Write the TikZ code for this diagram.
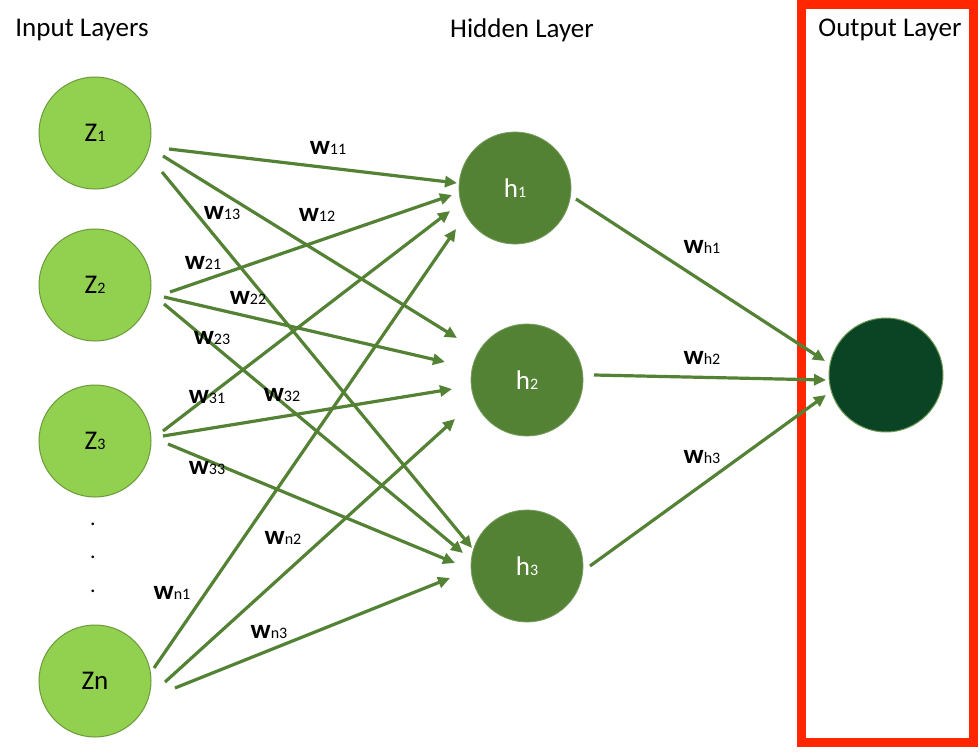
\documentclass[tikz,border=0pt]{standalone}
\usepackage{fontspec}
\setmainfont{Carlito}
\usetikzlibrary{arrows.meta}
\definecolor{inputgreen}{HTML}{92D050}
\definecolor{inputedge}{HTML}{6A9A3A}
\definecolor{hiddengreen}{HTML}{548235}
\definecolor{outgreen}{HTML}{0A4424}
\definecolor{outedge}{HTML}{6E9A55}
\definecolor{framered}{HTML}{FF2600}
\newcommand\wlab[1]{{\fontsize{27}{27}\selectfont\bfseries w}{\fontsize{16}{16}\selectfont #1}}
\newcommand\nlab[2]{{\fontsize{27}{27}\selectfont #1}{\fontsize{16}{16}\selectfont #2}}
\begin{document}
\begin{tikzpicture}[x=1pt,y=-1pt,
  inputnode/.style={circle,fill=inputgreen,draw=inputedge,line width=1pt,minimum size=112pt,inner sep=0pt},
  hiddennode/.style={circle,fill=hiddengreen,draw=hiddengreen!80!white,line width=0.8pt,minimum size=112pt,inner sep=0pt,text=white},
  outnode/.style={circle,fill=outgreen,draw=outedge,line width=1pt,minimum size=114pt,inner sep=0pt},
  conn/.style={draw=hiddengreen,line width=3.2pt,-{Triangle[length=12pt,width=11pt]}},
  titletext/.style={font=\fontsize{27}{27}\selectfont,inner sep=0pt},
  wlabel/.style={inner sep=0pt},
  dotlabel/.style={font=\fontsize{22}{22}\selectfont,inner sep=0pt}
]
\fill[white] (0,0) rectangle (980,755);
\useasboundingbox (0,0) rectangle (980,755);

% frame
\draw[framered,line width=9pt] (801,4) rectangle (973,742);

% titles
\node[titletext] (tin)  at (82,30)  {Input Layers};
\node[titletext] (thid) at (522,30) {Hidden Layer};
\node[titletext] (tout) at (890,30) {Output Layer};

% input nodes
\node[inputnode] (z1) at (95,133) {\nlab{Z}{1}};
\node[inputnode] (z2) at (95,285) {\nlab{Z}{2}};
\node[inputnode] (z3) at (95,441) {\nlab{Z}{3}};
\node[inputnode] (zn) at (95,681) {{\fontsize{27}{27}\selectfont Zn}};
\node[dotlabel] (d1) at (93,524) {.};
\node[dotlabel] (d2) at (93,557) {.};
\node[dotlabel] (d3) at (93,591) {.};

% hidden nodes
\node[hiddennode] (h1) at (515,188) {\nlab{h}{1}};
\node[hiddennode] (h2) at (527,380) {\nlab{h}{2}};
\node[hiddennode] (h3) at (527,566) {\nlab{h}{3}};

% output node
\node[outnode] (out) at (886,375) {};

% connectors input -> hidden
\draw[conn] ([shift={(74,16)}]z1.center) -- ([shift={(-58,-5)}]h1.center);
\draw[conn] ([shift={(68,23)}]z1.center) -- ([shift={(-70,-42)}]h2.center);
\draw[conn] ([shift={(67,39)}]z1.center) -- ([shift={(-55,-18)}]h3.center);
\draw[conn] ([shift={(75,7)}]z2.center) -- ([shift={(-63,7)}]h1.center);
\draw[conn] ([shift={(69,12)}]z2.center) -- ([shift={(-82,-18)}]h2.center);
\draw[conn] ([shift={(69,19)}]z2.center) -- ([shift={(-64,-13)}]h3.center);
\draw[conn] ([shift={(68,-10)}]z3.center) -- ([shift={(-65,23)}]h1.center);
\draw[conn] ([shift={(68,-5)}]z3.center) -- ([shift={(-75,9)}]h2.center);
\draw[conn] ([shift={(73,3)}]z3.center) -- ([shift={(-72,-3)}]h3.center);
\draw[conn] ([shift={(59,-13)}]zn.center) -- ([shift={(-59,41)}]h1.center);
\draw[conn] ([shift={(70,1)}]zn.center) -- ([shift={(-72,39)}]h2.center);
\draw[conn] ([shift={(80,7)}]zn.center) -- ([shift={(-77,12)}]h3.center);

% connectors hidden -> output
\draw[conn] ([shift={(61,11)}]h1.center) -- ([shift={(-61,-14)}]out.center);
\draw[conn] ([shift={(67,-5)}]h2.center) -- ([shift={(-60,5)}]out.center);
\draw[conn] ([shift={(63,0)}]h3.center) -- ([shift={(-60,20)}]out.center);

% weight labels
\node[wlabel] (w11) at (328,148) {\wlab{11}};
\node[wlabel] (w12) at (317,215) {\wlab{12}};
\node[wlabel] (w13) at (222,213) {\wlab{13}};
\node[wlabel] (w21) at (203,263) {\wlab{21}};
\node[wlabel] (w22) at (248,298) {\wlab{22}};
\node[wlabel] (w23) at (212,338) {\wlab{23}};
\node[wlabel] (w31) at (207,397) {\wlab{31}};
\node[wlabel] (w32) at (282,395) {\wlab{32}};
\node[wlabel] (w33) at (207,468) {\wlab{33}};
\node[wlabel] (wn1) at (172,593) {\wlab{n1}};
\node[wlabel] (wn2) at (283,538) {\wlab{n2}};
\node[wlabel] (wn3) at (269,632) {\wlab{n3}};
\node[wlabel] (wh1) at (702,247) {\wlab{h1}};
\node[wlabel] (wh2) at (702,358) {\wlab{h2}};
\node[wlabel] (wh3) at (702,457) {\wlab{h3}};
\end{tikzpicture}
\end{document}
